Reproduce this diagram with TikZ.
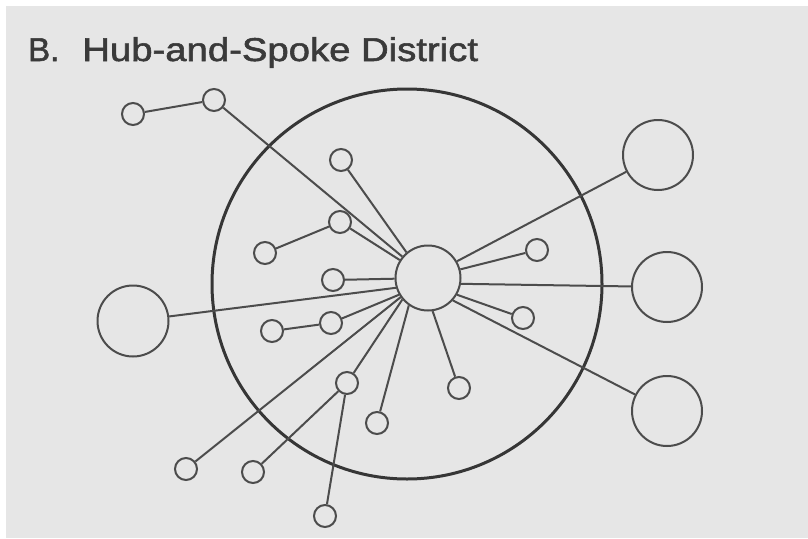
\documentclass[tikz,border=0pt]{standalone}
\usepackage{fontspec}
\setmainfont{Liberation Sans}
\newfontfamily\titlefont{Liberation Sans}[FakeBold=1.6]
\definecolor{paper}{HTML}{E6E6E6}
\definecolor{inkline}{HTML}{4C4C4C}
\definecolor{inkring}{HTML}{363636}
\definecolor{inktext}{HTML}{3A3A3A}
\begin{document}
\begin{tikzpicture}[x=1pt,y=-1pt,
  spoke/.style={draw=inkline, line width=2pt},
  smallsite/.style={circle, draw=inkline, line width=2pt, minimum size=22pt, inner sep=0pt},
  largesite/.style={circle, draw=inkline, line width=2pt, minimum size=70pt, inner sep=0pt},
  hubsite/.style={circle, draw=inkline, line width=2pt, minimum size=65pt, inner sep=0pt},
  boundary/.style={draw=inkring, line width=3pt},
]
% page and paper
\fill[white] (0,0) rectangle (808,538);
\fill[paper] (6,6) rectangle (808,538);
\useasboundingbox (0,0) rectangle (808,538);

% title
\node[anchor=base west, inner sep=0pt, text=inktext] (title) at (28,61)
  {\titlefont\fontsize{33}{33}\selectfont B.\hspace{23pt}\scalebox{1.16}[1]{Hub-and-Spoke District}};

% district boundary
\draw[boundary] (407,284) circle[radius=195];

% hub
\node[hubsite] (hub) at (428,278) {};

% large outer sites
\node[largesite] (r1) at (658,155) {};
\node[largesite] (r2) at (667,287) {};
\node[largesite] (r3) at (667,411) {};
\node[largesite, minimum size=71pt] (lw) at (133,321) {};

% small sites
\node[smallsite] (a) at (133,114) {};
\node[smallsite] (b) at (214,100) {};
\node[smallsite] (c) at (340,222) {};
\node[smallsite] (d) at (265,253) {};
\node[smallsite] (e) at (341,160) {};
\node[smallsite] (f) at (333,280) {};
\node[smallsite] (g) at (331,323) {};
\node[smallsite] (h) at (272,331) {};
\node[smallsite] (i) at (347,383) {};
\node[smallsite] (j) at (253,472) {};
\node[smallsite] (k) at (325,516) {};
\node[smallsite] (l) at (186,469) {};
\node[smallsite] (m) at (377,423) {};
\node[smallsite] (n) at (459,388) {};
\node[smallsite] (o) at (537,250) {};
\node[smallsite] (p) at (523,318) {};

% spokes and links
\draw[spoke] (a) -- (b);
\draw[spoke] (b) -- (hub);
\draw[spoke] (d) -- (c);
\draw[spoke] (c) -- (hub);
\draw[spoke] (e) -- (hub.130);
\draw[spoke] (f) -- (hub);
\draw[spoke] (lw) -- (hub.197);
\draw[spoke] (h) -- (g);
\draw[spoke] (g) -- (hub.210);
\draw[spoke] (l) -- (hub.215);
\draw[spoke] (i) -- (hub.220);
\draw[spoke] (j) -- (i);
\draw[spoke] (k) -- (i);
\draw[spoke] (m) -- (hub.235);
\draw[spoke] (n) -- (hub.278);
\draw[spoke] (p) -- (hub.330);
\draw[spoke] (o) -- (hub.15);
\draw[spoke] (r1) -- (hub.30);
\draw[spoke] (r2) -- (hub.350);
\draw[spoke] (r3) -- (hub.318);
\end{tikzpicture}
\end{document}
